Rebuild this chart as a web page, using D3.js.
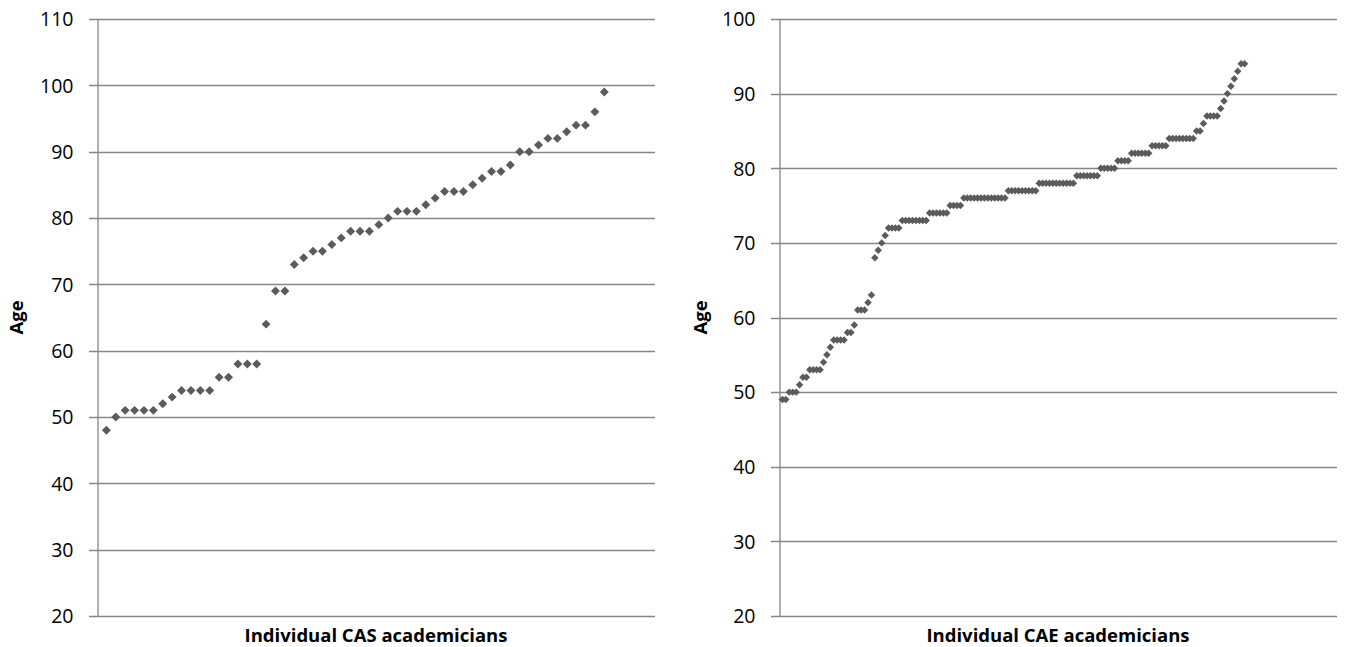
<!DOCTYPE html>
<html>
<head>
<meta charset="utf-8">
<script src="https://cdn.jsdelivr.net/npm/d3@7"></script>
<style>
  body { margin: 0; background: #fff; }
  svg { display: block; }
  .tick text { font-family: "Open Sans", sans-serif; font-size: 19.5px; fill: #000; }
  .title { font-family: "Open Sans", sans-serif; font-size: 18.5px; font-weight: bold; fill: #000; }
</style>
</head>
<body>
<svg id="chart" width="1347" height="647"></svg>
<script>
// Ages of CAS academicians, ordered
const casAges = [48, 50, 51, 51, 51, 51, 52, 53, 54, 54, 54, 54, 56, 56, 58, 58, 58, 64, 69, 69,
  73, 74, 75, 75, 76, 77, 78, 78, 78, 79, 80, 81, 81, 81, 82, 83, 84, 84, 84, 85,
  86, 87, 87, 88, 90, 90, 91, 92, 92, 93, 94, 94, 96, 99];

// Ages of CAE academicians, ordered
const caeAges = [49, 49, 50, 50, 50, 51, 52, 52, 53, 53, 53, 53, 54, 55, 56, 57, 57, 57, 57, 58, 58,
  59, 61, 61, 61, 62, 63, 68, 69, 70, 71,
  72, 72, 72, 72,
  73, 73, 73, 73, 73, 73, 73, 73,
  74, 74, 74, 74, 74, 74,
  75, 75, 75, 75,
  76, 76, 76, 76, 76, 76, 76, 76, 76, 76, 76, 76, 76,
  77, 77, 77, 77, 77, 77, 77, 77, 77,
  78, 78, 78, 78, 78, 78, 78, 78, 78, 78, 78,
  79, 79, 79, 79, 79, 79, 79,
  80, 80, 80, 80, 80,
  81, 81, 81, 81,
  82, 82, 82, 82, 82, 82,
  83, 83, 83, 83, 83,
  84, 84, 84, 84, 84, 84, 84, 84,
  85, 85, 86, 87, 87, 87, 87,
  88, 89, 90, 91, 92, 93, 94, 94];

const casTicks = [20, 30, 40, 50, 60, 70, 80, 90, 100, 110];
const caeTicks = [20, 30, 40, 50, 60, 70, 80, 90, 100];

const svg = d3.select("#chart");
const gridColor = "#868686";
const markColor = "#5b5b5b";

function drawPanel(opts) {
  const { ages, ticks, x0, x1, xMax, xTitle, ageX, size } = opts;
  const top = 19, bottom = 616;

  const x = d3.scaleLinear().domain([0, xMax]).range([x0, x1]);
  const y = d3.scaleLinear().domain([d3.min(ticks), d3.max(ticks)]).range([bottom, top]);

  const g = svg.append("g");

  // gridlines
  g.append("g")
    .selectAll("line")
    .data(ticks)
    .enter()
    .append("line")
    .attr("x1", x0 - 8)
    .attr("x2", x1)
    .attr("y1", d => Math.round(y(d)) + 0.5)
    .attr("y2", d => Math.round(y(d)) + 0.5)
    .attr("stroke", gridColor)
    .attr("stroke-width", 1.3);

  // y axis
  const axis = g.append("g")
    .attr("transform", `translate(${x0 + 0.5},0)`)
    .call(d3.axisLeft(y).tickValues(ticks).tickSize(0).tickPadding(24));
  axis.select(".domain").attr("stroke", gridColor).attr("stroke-width", 1.3);
  axis.selectAll(".tick text").attr("dy", "0.35em");

  // markers
  const diamond = d3.symbol().type(d3.symbolSquare).size(size);
  g.append("g")
    .selectAll("path")
    .data(ages)
    .enter()
    .append("path")
    .attr("d", diamond)
    .attr("transform", (d, i) => `translate(${x(i + 1)},${y(d)}) rotate(45)`)
    .attr("fill", markColor);

  // titles
  g.append("text")
    .attr("class", "title")
    .attr("x", (x0 + x1) / 2)
    .attr("y", 642)
    .attr("text-anchor", "middle")
    .text(xTitle);

  g.append("text")
    .attr("class", "title")
    .attr("transform", `translate(${ageX},${(top + bottom) / 2}) rotate(-90)`)
    .attr("text-anchor", "middle")
    .text("Age");
}

drawPanel({ ages: casAges, ticks: casTicks, x0: 97, x1: 655, xMax: 59.4,
  xTitle: "Individual CAS academicians", ageX: 23, size: 40 });
drawPanel({ ages: caeAges, ticks: caeTicks, x0: 779, x1: 1337, xMax: 163,
  xTitle: "Individual CAE academicians", ageX: 707, size: 28 });
</script>
</body>
</html>
